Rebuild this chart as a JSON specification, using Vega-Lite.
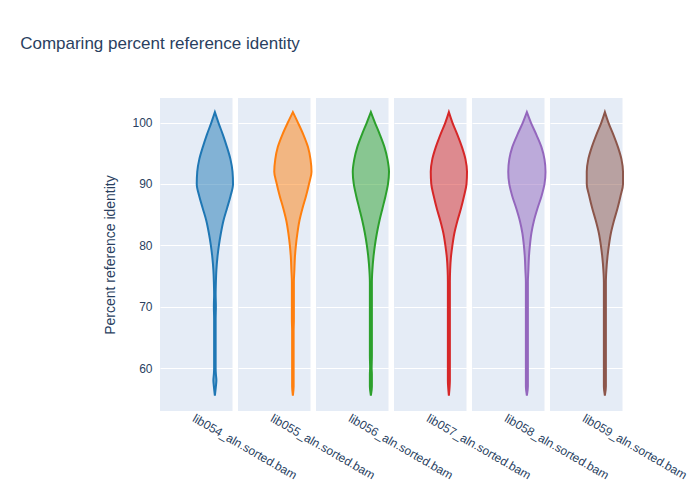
{
  "$schema": "https://vega.github.io/schema/vega-lite/v6.json",
  "title": {"text": "Comparing percent reference identity", "fontSize": 17, "fontWeight": "normal", "color": "#2a3f5f", "font": "Liberation Sans", "offset": 45, "anchor": "middle", "frame": "group"},
  "background": "white",
  "padding": {"left": 20, "top": 35, "right": 5, "bottom": 5},
  "data": {"values": [
    {"lib":"lib054_aln.sorted.bam","id":55.5,"w":0},{"lib":"lib054_aln.sorted.bam","id":57,"w":2},{"lib":"lib054_aln.sorted.bam","id":58,"w":3},{"lib":"lib054_aln.sorted.bam","id":59,"w":2},{"lib":"lib054_aln.sorted.bam","id":60,"w":1.5},{"lib":"lib054_aln.sorted.bam","id":62,"w":1.5},{"lib":"lib054_aln.sorted.bam","id":64,"w":1.5},{"lib":"lib054_aln.sorted.bam","id":66,"w":1.5},{"lib":"lib054_aln.sorted.bam","id":68,"w":1.5},{"lib":"lib054_aln.sorted.bam","id":70,"w":2},{"lib":"lib054_aln.sorted.bam","id":72,"w":1.5},{"lib":"lib054_aln.sorted.bam","id":74,"w":2},{"lib":"lib054_aln.sorted.bam","id":76,"w":3},{"lib":"lib054_aln.sorted.bam","id":78,"w":5},{"lib":"lib054_aln.sorted.bam","id":80,"w":8},{"lib":"lib054_aln.sorted.bam","id":82,"w":12},{"lib":"lib054_aln.sorted.bam","id":84,"w":17},{"lib":"lib054_aln.sorted.bam","id":86,"w":24},{"lib":"lib054_aln.sorted.bam","id":88,"w":31},{"lib":"lib054_aln.sorted.bam","id":90,"w":36},{"lib":"lib054_aln.sorted.bam","id":92,"w":35},{"lib":"lib054_aln.sorted.bam","id":94,"w":31},{"lib":"lib054_aln.sorted.bam","id":96,"w":24},{"lib":"lib054_aln.sorted.bam","id":98,"w":16},{"lib":"lib054_aln.sorted.bam","id":100,"w":7},{"lib":"lib054_aln.sorted.bam","id":101.7,"w":0},
    {"lib":"lib055_aln.sorted.bam","id":55.5,"w":0},{"lib":"lib055_aln.sorted.bam","id":57,"w":1.5},{"lib":"lib055_aln.sorted.bam","id":58,"w":1.5},{"lib":"lib055_aln.sorted.bam","id":59,"w":1.5},{"lib":"lib055_aln.sorted.bam","id":60,"w":1.5},{"lib":"lib055_aln.sorted.bam","id":62,"w":1.5},{"lib":"lib055_aln.sorted.bam","id":64,"w":1.5},{"lib":"lib055_aln.sorted.bam","id":66,"w":1.5},{"lib":"lib055_aln.sorted.bam","id":68,"w":2},{"lib":"lib055_aln.sorted.bam","id":70,"w":2},{"lib":"lib055_aln.sorted.bam","id":72,"w":2},{"lib":"lib055_aln.sorted.bam","id":74,"w":2},{"lib":"lib055_aln.sorted.bam","id":76,"w":3},{"lib":"lib055_aln.sorted.bam","id":78,"w":4},{"lib":"lib055_aln.sorted.bam","id":80,"w":6},{"lib":"lib055_aln.sorted.bam","id":82,"w":9},{"lib":"lib055_aln.sorted.bam","id":84,"w":13},{"lib":"lib055_aln.sorted.bam","id":86,"w":19},{"lib":"lib055_aln.sorted.bam","id":88,"w":26},{"lib":"lib055_aln.sorted.bam","id":90,"w":32},{"lib":"lib055_aln.sorted.bam","id":92,"w":37},{"lib":"lib055_aln.sorted.bam","id":94,"w":35},{"lib":"lib055_aln.sorted.bam","id":96,"w":30},{"lib":"lib055_aln.sorted.bam","id":98,"w":21},{"lib":"lib055_aln.sorted.bam","id":100,"w":10},{"lib":"lib055_aln.sorted.bam","id":101.7,"w":0},
    {"lib":"lib056_aln.sorted.bam","id":55.5,"w":0},{"lib":"lib056_aln.sorted.bam","id":57,"w":2},{"lib":"lib056_aln.sorted.bam","id":58,"w":2},{"lib":"lib056_aln.sorted.bam","id":59,"w":2},{"lib":"lib056_aln.sorted.bam","id":60,"w":1.5},{"lib":"lib056_aln.sorted.bam","id":62,"w":2},{"lib":"lib056_aln.sorted.bam","id":64,"w":2},{"lib":"lib056_aln.sorted.bam","id":66,"w":2},{"lib":"lib056_aln.sorted.bam","id":68,"w":2},{"lib":"lib056_aln.sorted.bam","id":70,"w":2},{"lib":"lib056_aln.sorted.bam","id":72,"w":2},{"lib":"lib056_aln.sorted.bam","id":74,"w":2},{"lib":"lib056_aln.sorted.bam","id":76,"w":3},{"lib":"lib056_aln.sorted.bam","id":78,"w":5},{"lib":"lib056_aln.sorted.bam","id":80,"w":8},{"lib":"lib056_aln.sorted.bam","id":82,"w":12},{"lib":"lib056_aln.sorted.bam","id":84,"w":17},{"lib":"lib056_aln.sorted.bam","id":86,"w":23},{"lib":"lib056_aln.sorted.bam","id":88,"w":29},{"lib":"lib056_aln.sorted.bam","id":90,"w":34},{"lib":"lib056_aln.sorted.bam","id":92,"w":36},{"lib":"lib056_aln.sorted.bam","id":94,"w":33},{"lib":"lib056_aln.sorted.bam","id":96,"w":27},{"lib":"lib056_aln.sorted.bam","id":98,"w":18},{"lib":"lib056_aln.sorted.bam","id":100,"w":8},{"lib":"lib056_aln.sorted.bam","id":101.7,"w":0},
    {"lib":"lib057_aln.sorted.bam","id":55.5,"w":0},{"lib":"lib057_aln.sorted.bam","id":57,"w":1.5},{"lib":"lib057_aln.sorted.bam","id":58,"w":2},{"lib":"lib057_aln.sorted.bam","id":59,"w":2},{"lib":"lib057_aln.sorted.bam","id":60,"w":2},{"lib":"lib057_aln.sorted.bam","id":62,"w":2},{"lib":"lib057_aln.sorted.bam","id":64,"w":2},{"lib":"lib057_aln.sorted.bam","id":66,"w":2},{"lib":"lib057_aln.sorted.bam","id":68,"w":2},{"lib":"lib057_aln.sorted.bam","id":70,"w":2},{"lib":"lib057_aln.sorted.bam","id":72,"w":2},{"lib":"lib057_aln.sorted.bam","id":74,"w":2},{"lib":"lib057_aln.sorted.bam","id":76,"w":2.5},{"lib":"lib057_aln.sorted.bam","id":78,"w":4},{"lib":"lib057_aln.sorted.bam","id":80,"w":7},{"lib":"lib057_aln.sorted.bam","id":82,"w":11},{"lib":"lib057_aln.sorted.bam","id":84,"w":17},{"lib":"lib057_aln.sorted.bam","id":86,"w":24},{"lib":"lib057_aln.sorted.bam","id":88,"w":30},{"lib":"lib057_aln.sorted.bam","id":90,"w":35},{"lib":"lib057_aln.sorted.bam","id":92,"w":36},{"lib":"lib057_aln.sorted.bam","id":94,"w":33},{"lib":"lib057_aln.sorted.bam","id":96,"w":26},{"lib":"lib057_aln.sorted.bam","id":98,"w":17},{"lib":"lib057_aln.sorted.bam","id":100,"w":7},{"lib":"lib057_aln.sorted.bam","id":101.7,"w":0},
    {"lib":"lib058_aln.sorted.bam","id":55.5,"w":0},{"lib":"lib058_aln.sorted.bam","id":57,"w":2},{"lib":"lib058_aln.sorted.bam","id":58,"w":2},{"lib":"lib058_aln.sorted.bam","id":59,"w":2},{"lib":"lib058_aln.sorted.bam","id":60,"w":2},{"lib":"lib058_aln.sorted.bam","id":62,"w":2},{"lib":"lib058_aln.sorted.bam","id":64,"w":2},{"lib":"lib058_aln.sorted.bam","id":66,"w":2},{"lib":"lib058_aln.sorted.bam","id":68,"w":2},{"lib":"lib058_aln.sorted.bam","id":70,"w":2},{"lib":"lib058_aln.sorted.bam","id":72,"w":2},{"lib":"lib058_aln.sorted.bam","id":74,"w":2},{"lib":"lib058_aln.sorted.bam","id":76,"w":3},{"lib":"lib058_aln.sorted.bam","id":78,"w":4},{"lib":"lib058_aln.sorted.bam","id":80,"w":6},{"lib":"lib058_aln.sorted.bam","id":82,"w":9},{"lib":"lib058_aln.sorted.bam","id":84,"w":14},{"lib":"lib058_aln.sorted.bam","id":86,"w":21},{"lib":"lib058_aln.sorted.bam","id":88,"w":29},{"lib":"lib058_aln.sorted.bam","id":90,"w":35},{"lib":"lib058_aln.sorted.bam","id":92,"w":37},{"lib":"lib058_aln.sorted.bam","id":94,"w":35},{"lib":"lib058_aln.sorted.bam","id":96,"w":29},{"lib":"lib058_aln.sorted.bam","id":98,"w":19},{"lib":"lib058_aln.sorted.bam","id":100,"w":8},{"lib":"lib058_aln.sorted.bam","id":101.7,"w":0},
    {"lib":"lib059_aln.sorted.bam","id":55.5,"w":0},{"lib":"lib059_aln.sorted.bam","id":57,"w":2},{"lib":"lib059_aln.sorted.bam","id":58,"w":2},{"lib":"lib059_aln.sorted.bam","id":59,"w":2},{"lib":"lib059_aln.sorted.bam","id":60,"w":2},{"lib":"lib059_aln.sorted.bam","id":62,"w":2},{"lib":"lib059_aln.sorted.bam","id":64,"w":2},{"lib":"lib059_aln.sorted.bam","id":66,"w":2},{"lib":"lib059_aln.sorted.bam","id":68,"w":2},{"lib":"lib059_aln.sorted.bam","id":70,"w":2},{"lib":"lib059_aln.sorted.bam","id":72,"w":2},{"lib":"lib059_aln.sorted.bam","id":74,"w":2},{"lib":"lib059_aln.sorted.bam","id":76,"w":3},{"lib":"lib059_aln.sorted.bam","id":78,"w":5},{"lib":"lib059_aln.sorted.bam","id":80,"w":8},{"lib":"lib059_aln.sorted.bam","id":82,"w":12},{"lib":"lib059_aln.sorted.bam","id":84,"w":18},{"lib":"lib059_aln.sorted.bam","id":86,"w":25},{"lib":"lib059_aln.sorted.bam","id":88,"w":31},{"lib":"lib059_aln.sorted.bam","id":90,"w":36},{"lib":"lib059_aln.sorted.bam","id":92,"w":36},{"lib":"lib059_aln.sorted.bam","id":94,"w":33},{"lib":"lib059_aln.sorted.bam","id":96,"w":26},{"lib":"lib059_aln.sorted.bam","id":98,"w":17},{"lib":"lib059_aln.sorted.bam","id":100,"w":7},{"lib":"lib059_aln.sorted.bam","id":101.7,"w":0}
  ]},
  "facet": {
    "column": {
      "field": "lib", "type": "nominal",
      "header": {"title": null, "labelOrient": "bottom", "labelAngle": 30, "labelAlign": "left", "labelBaseline": "top", "labelPadding": 2, "labelFontSize": 12, "labelColor": "#2a3f5f", "labelFont": "Liberation Sans"}
    }
  },
  "spacing": {"column": 0},
  "spec": {
    "width": 72.5,
    "height": 313,
    "mark": {"type": "area", "orient": "horizontal", "interpolate": "monotone", "fillOpacity": 0.5, "strokeWidth": 2},
    "encoding": {
      "y": {"field": "id", "type": "quantitative", "scale": {"domain": [53, 104], "nice": false, "zero": false},
        "axis": {"values": [60, 70, 80, 90, 100], "title": "Percent reference identity", "titleFontSize": 14, "titleFontWeight": "normal", "titleColor": "#2a3f5f", "titleFont": "Liberation Sans", "titlePadding": 14, "labelFontSize": 12, "labelColor": "#2a3f5f", "labelFont": "Liberation Sans", "domain": false, "ticks": false, "labelPadding": 8, "gridColor": "white", "gridWidth": 1}},
      "x": {"field": "w", "type": "quantitative", "stack": "center", "scale": {"domain": [-36, 36]}, "axis": null},
      "color": {"field": "lib", "type": "nominal", "scale": {"range": ["#1f77b4", "#ff7f0e", "#2ca02c", "#d62728", "#9467bd", "#8c564b"]},
        "legend": {"title": null, "symbolType": "square", "symbolSize": 150, "symbolOpacity": 0.5, "symbolStrokeWidth": 2, "labelFontSize": 12, "labelColor": "#2a3f5f", "labelFont": "Liberation Sans", "rowPadding": 5, "labelOffset": 12, "offset": 22, "orient": "right"}},
      "stroke": {"field": "lib", "type": "nominal", "scale": {"range": ["#1f77b4", "#ff7f0e", "#2ca02c", "#d62728", "#9467bd", "#8c564b"]}, "legend": null}
    }
  },
  "config": {
    "view": {"fill": "#e5ecf6", "stroke": null},
    "facet": {"spacing": 0},
    "legend": {"symbolFillOpacity": 0.5}
  }
}
